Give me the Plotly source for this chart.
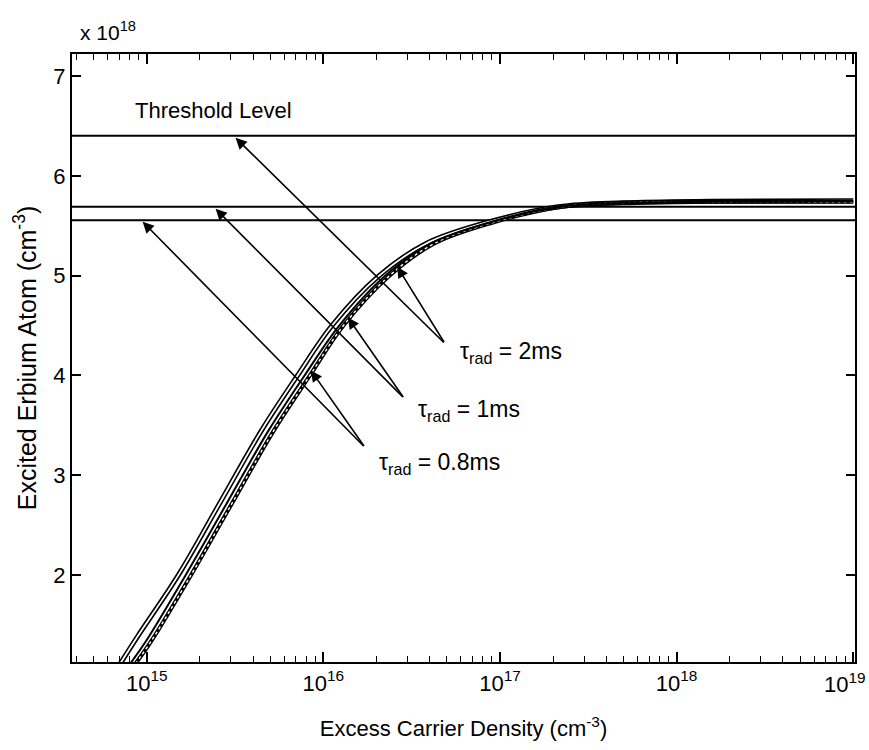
import plotly.graph_objects as go

# ---- data ----
# curve A (outer, hollow)
dens_a = [7.06e14, 8.91e14, 1.51e15, 2.57e15, 4.47e15, 7.08e15, 1.12e16, 2.04e16,
          3.80e16, 8.32e16, 2.14e17, 5.01e17, 1.58e18, 1.0e19]
er_a = [1.11, 1.39, 2.00, 2.71, 3.45, 3.99, 4.50, 4.99, 5.32, 5.53, 5.69, 5.73, 5.745, 5.75]
# curve B (solid)
dens_b = [8.04e14, 1.00e15, 1.66e15, 2.82e15, 4.90e15, 7.76e15, 1.23e16, 2.21e16,
          4.03e16, 8.71e16, 2.19e17, 5.01e17, 1.58e18, 1.0e19]
er_b = [1.11, 1.35, 2.00, 2.71, 3.45, 3.99, 4.50, 4.99, 5.32, 5.53, 5.69, 5.73, 5.74, 5.745]
# curve C (dotted hollow)
dens_c = [8.61e14, 1.07e15, 1.78e15, 3.02e15, 5.25e15, 8.32e15, 1.30e16, 2.34e16,
          4.22e16, 9.02e16, 2.24e17, 5.01e17, 1.58e18, 1.0e19]
er_c = [1.11, 1.35, 2.00, 2.71, 3.45, 3.99, 4.50, 4.99, 5.32, 5.53, 5.69, 5.73, 5.74, 5.74]

threshold_levels = [6.40, 5.69, 5.555]
x_span = [10 ** 14.577, 10 ** 19.01]

tau_labels = ["τ<sub>rad</sub> = 2ms", "τ<sub>rad</sub> = 1ms", "τ<sub>rad</sub> = 0.8ms"]
label_pos = [(16.763, 4.23), (16.525, 3.647), (16.304, 3.114)]       # log10(x), y
arrow_tail = [(16.689, 4.318), (16.458, 3.77), (16.236, 3.278)]
arrow_curve = [(16.418, 5.09), (16.139, 4.58), (15.93, 4.05)]
arrow_thresh = [(15.503, 6.38), (15.390, 5.67), (14.977, 5.54)]

x_tickvals = [1e15, 1e16, 1e17, 1e18, 1e19]
x_ticktext = ["10<sup>15</sup>", "10<sup>16</sup>", "10<sup>17</sup>", "10<sup>18</sup>", ""]
x_last_label = "10<sup>19</sup>"
minor_decades = [14, 15, 16, 17, 18]
minor_mults = [2, 3, 4, 5, 6, 7, 8, 9]
y_tickvals = [2, 3, 4, 5, 6, 7]

FONT = "Liberation Sans, Arial, sans-serif"

minor_vals = [m * 10.0 ** d for d in minor_decades for m in minor_mults]

fig = go.Figure()

for lvl in threshold_levels:
    fig.add_trace(go.Scatter(x=x_span, y=[lvl, lvl], mode="lines",
                             line=dict(color="black", width=2), hoverinfo="skip"))

# curve A hollow
fig.add_trace(go.Scatter(x=dens_a, y=er_a, mode="lines", line=dict(color="black", width=5, shape="spline")))
fig.add_trace(go.Scatter(x=dens_a, y=er_a, mode="lines", line=dict(color="white", width=1.8, shape="spline")))
# curve C dotted hollow
fig.add_trace(go.Scatter(x=dens_c, y=er_c, mode="lines", line=dict(color="black", width=4, shape="spline")))
fig.add_trace(go.Scatter(x=dens_c, y=er_c, mode="lines", line=dict(color="white", width=1.4, dash="dot", shape="spline")))
# curve B solid
fig.add_trace(go.Scatter(x=dens_b, y=er_b, mode="lines", line=dict(color="black", width=2, shape="spline")))

annotations = []
for (lx, ly), txt in zip(label_pos, tau_labels):
    annotations.append(dict(x=lx, y=ly, xref="x", yref="y", text=txt, showarrow=False,
                            xanchor="left", yanchor="middle",
                            font=dict(family=FONT, size=23, color="black")))
for tail, c_tip, t_tip in zip(arrow_tail, arrow_curve, arrow_thresh):
    for tip in (c_tip, t_tip):
        annotations.append(dict(x=tip[0], y=tip[1], ax=tail[0], ay=tail[1],
                                xref="x", yref="y", axref="x", ayref="y",
                                text="", showarrow=True, arrowhead=2, arrowsize=1.4,
                                arrowwidth=1.6, arrowcolor="black", standoff=0))

annotations.append(dict(x=14.923, y=6.65, xref="x", yref="y", text="Threshold Level",
                        showarrow=False, xanchor="left", yanchor="middle",
                        font=dict(family=FONT, size=22, color="black")))
annotations.append(dict(x=0.0, y=1.0, xref="paper", yref="paper", text="x 10<sup>18</sup>",
                        showarrow=False, xanchor="left", yanchor="bottom", xshift=6, yshift=8,
                        font=dict(family=FONT, size=21, color="black")))
annotations.append(dict(x=1.0, y=0.0, xref="paper", yref="paper", text=x_last_label,
                        showarrow=False, xanchor="right", yanchor="top", xshift=13, yshift=-5,
                        font=dict(family=FONT, size=22, color="black")))

fig.update_layout(
    width=869, height=750,
    margin=dict(l=72, r=14, t=54, b=88),
    paper_bgcolor="white", plot_bgcolor="white",
    showlegend=False,
    annotations=annotations,
    font=dict(family=FONT, size=21, color="black"),
)

fig.update_xaxes(type="log", range=[14.577, 19.01], tickvals=x_tickvals, ticktext=x_ticktext,
                 ticks="inside", ticklen=10, tickwidth=1.6, tickcolor="black",
                 minor=dict(tickvals=minor_vals, ticks="inside", ticklen=6, tickwidth=1.3,
                            tickcolor="black", showgrid=False),
                 showline=True, linecolor="black", linewidth=2.2, mirror="allticks",
                 showgrid=False, zeroline=False,
                 tickfont=dict(family=FONT, size=22),
                 title=dict(text="Excess Carrier Density (cm<sup>-3</sup>)", standoff=26,
                            font=dict(family=FONT, size=22)))
fig.update_yaxes(range=[1.13, 7.22], tickvals=y_tickvals,
                 ticks="inside", ticklen=9, tickwidth=1.6, tickcolor="black",
                 showline=True, linecolor="black", linewidth=2.2, mirror="allticks",
                 showgrid=False, zeroline=False,
                 tickfont=dict(family=FONT, size=22),
                 title=dict(text="Excited Erbium Atom (cm<sup>-3</sup>)", standoff=10,
                            font=dict(family=FONT, size=25)))

fig.write_html("out.html")
